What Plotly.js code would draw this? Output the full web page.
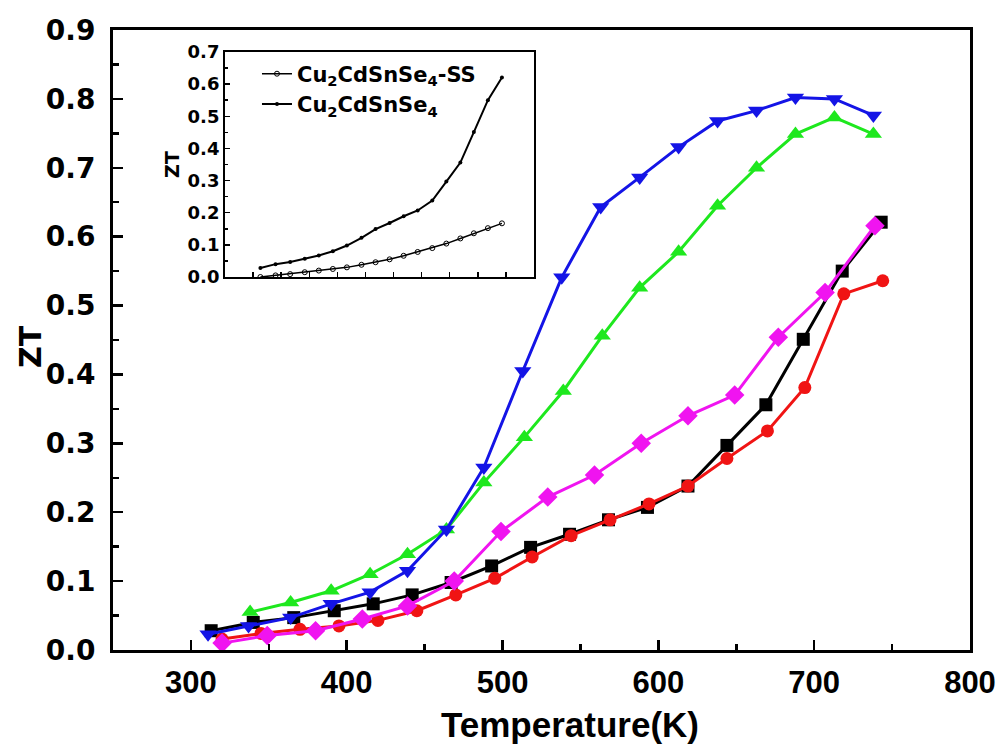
<!DOCTYPE html>
<html>
<head>
<meta charset="utf-8">
<script src="https://cdn.plot.ly/plotly-3.0.1.min.js"></script>
<style>html,body{margin:0;padding:0;background:#fff;}</style>
</head>
<body>
<div id="chart" style="width:1005px;height:744px;"></div>
<script>
// Main chart series (Temperature in K, ZT)
const tempBlack = [313,340,366,392,417,442,467,493,518,543,568,593,619,644,669,693,718,743];
const ztBlack   = [0.028,0.040,0.047,0.057,0.067,0.080,0.098,0.122,0.149,0.168,0.189,0.207,0.238,0.297,0.356,0.451,0.550,0.621];

const tempRed = [320,345,370,395,420,445,470,495,519,544,569,594,619,644,670,694,719,744];
const ztRed   = [0.016,0.024,0.030,0.035,0.043,0.057,0.080,0.104,0.135,0.166,0.189,0.212,0.238,0.278,0.318,0.381,0.517,0.536];

const tempMagenta = [320,349,380,410,439,469,499,529,559,589,619,649,677,707,739];
const ztMagenta   = [0.010,0.021,0.028,0.045,0.064,0.100,0.172,0.222,0.254,0.300,0.340,0.370,0.454,0.519,0.616];

const tempGreen = [338,364,390,415,439,464,488,514,539,564,588,613,638,663,688,713,738];
const ztGreen   = [0.055,0.069,0.086,0.110,0.139,0.175,0.243,0.309,0.376,0.456,0.526,0.578,0.645,0.700,0.749,0.773,0.749];

const tempBlue = [311,337,364,390,415,439,464,488,513,538,563,588,613,638,663,688,713,738];
const ztBlue   = [0.023,0.035,0.047,0.067,0.084,0.115,0.175,0.265,0.405,0.541,0.643,0.686,0.730,0.768,0.783,0.802,0.800,0.776];

// Inset series
const insetTemp = tempBlack;
const insetZtSS = [0.000,0.005,0.009,0.015,0.020,0.025,0.030,0.038,0.046,0.055,0.066,0.078,0.090,0.104,0.120,0.136,0.152,0.167];
const insetZt   = ztBlack;
const insetNames = ['Cu<sub>2</sub>CdSnSe<sub>4</sub>-SS', 'Cu<sub>2</sub>CdSnSe<sub>4</sub>'];

// Axis ticks and titles
const mainXTicks = [300,400,500,600,700,800];
const mainYTicks = [0.0,0.1,0.2,0.3,0.4,0.5,0.6,0.7,0.8,0.9];
const insetYTicks = [0.0,0.1,0.2,0.3,0.4,0.5,0.6,0.7];
const xTitle = 'Temperature(K)';
const yTitle = 'ZT';

const wideFont = 'DejaVu Sans, Liberation Sans, sans-serif';
const xFont = 'Liberation Sans, Arial, sans-serif';

function mainTrace(x, y, color, symbol, size) {
  return {
    x: x, y: y, type: 'scatter', mode: 'lines+markers',
    line: {color: color, width: 3},
    marker: {color: color, symbol: symbol, size: size, line: {width: 0}},
    showlegend: false, xaxis: 'x', yaxis: 'y', hoverinfo: 'skip'
  };
}

const traces = [
  mainTrace(tempBlack, ztBlack, '#000000', 'square', 13),
  mainTrace(tempRed, ztRed, '#f01414', 'circle', 13),
  mainTrace(tempMagenta, ztMagenta, '#f014f0', 'diamond', 15),
  mainTrace(tempGreen, ztGreen, '#1ee81e', 'triangle-up', 15),
  mainTrace(tempBlue, ztBlue, '#1414e6', 'triangle-down', 15),
  {
    x: insetTemp, y: insetZtSS, type: 'scatter', mode: 'lines+markers',
    name: insetNames[0], xaxis: 'x2', yaxis: 'y2',
    line: {color: '#000', width: 1.5},
    marker: {symbol: 'circle-open', size: 5, color: '#000', line: {width: 1, color: '#000'}},
    hoverinfo: 'skip'
  },
  {
    x: insetTemp, y: insetZt, type: 'scatter', mode: 'lines+markers',
    name: insetNames[1], xaxis: 'x2', yaxis: 'y2',
    line: {color: '#000', width: 2},
    marker: {symbol: 'circle', size: 4, color: '#000'},
    hoverinfo: 'skip'
  }
];

const insetX0 = 0.1307, insetX1 = 0.4912, insetY0 = 0.6016, insetY1 = 0.9645;

const layout = {
  width: 1005, height: 744,
  margin: {l: 113, r: 35, t: 30, b: 94},
  paper_bgcolor: '#ffffff', plot_bgcolor: '#ffffff',
  showlegend: true,
  xaxis: {
    domain: [0, 1], range: [250, 800],
    tickmode: 'array', tickvals: mainXTicks, ticktext: mainXTicks.map(String),
    ticks: 'inside', ticklen: 10, tickwidth: 2.5, tickcolor: '#000',
    minor: {dtick: 50, tick0: 250, ticks: 'inside', ticklen: 6, tickwidth: 2.5, tickcolor: '#000'},
    showline: true, linewidth: 3, linecolor: '#000', mirror: true,
    showgrid: false, zeroline: false,
    ticklabelstandoff: 3,
    tickfont: {family: xFont, size: 31, color: '#000', weight: 'bold'}
  },
  yaxis: {
    domain: [0, 1], range: [0, 0.9],
    tickmode: 'array', tickvals: mainYTicks, ticktext: mainYTicks.map(v => v.toFixed(1)),
    ticks: 'inside', ticklen: 10, tickwidth: 2.5, tickcolor: '#000',
    minor: {dtick: 0.05, tick0: 0, ticks: 'inside', ticklen: 6, tickwidth: 2.5, tickcolor: '#000'},
    showline: true, linewidth: 3, linecolor: '#000', mirror: true,
    showgrid: false, zeroline: false,
    ticklabelstandoff: 9,
    tickfont: {family: wideFont, size: 28, color: '#000', weight: 'bold'}
  },
  xaxis2: {
    domain: [insetX0, insetX1], anchor: 'y2', range: [250, 800],
    dtick: 50, tick0: 300, showticklabels: false,
    ticks: 'inside', ticklen: 5, tickwidth: 1.5, tickcolor: '#000',
    showline: true, linewidth: 2, linecolor: '#000', mirror: true,
    showgrid: false, zeroline: false
  },
  yaxis2: {
    domain: [insetY0, insetY1], anchor: 'x2', range: [0, 0.7],
    tickmode: 'array', tickvals: insetYTicks, ticktext: insetYTicks.map(v => v.toFixed(1)),
    ticks: 'inside', ticklen: 5, tickwidth: 1.5, tickcolor: '#000',
    minor: {dtick: 0.05, tick0: 0, ticks: 'inside', ticklen: 3, tickwidth: 1.5, tickcolor: '#000'},
    showline: true, linewidth: 2, linecolor: '#000', mirror: true,
    showgrid: false, zeroline: false,
    tickfont: {family: wideFont, size: 18, color: '#000', weight: 'bold'},
    title: {text: yTitle, font: {family: wideFont, size: 19, color: '#000', weight: 'bold'}, standoff: 3}
  },
  legend: {
    x: 0.168, y: 0.962, xanchor: 'left', yanchor: 'top',
    bgcolor: 'rgba(0,0,0,0)', borderwidth: 0,
    font: {family: wideFont, size: 21, color: '#000', weight: 'bold'},
    tracegroupgap: 0, itemwidth: 30
  },
  annotations: [
    {text: xTitle, xref: 'paper', yref: 'paper', x: 0.533, y: -0.12,
     xanchor: 'center', yanchor: 'middle', showarrow: false,
     font: {family: xFont, size: 35, color: '#000', weight: 'bold'}},
    {text: yTitle, xref: 'paper', yref: 'paper', x: -0.097, y: 0.49,
     xanchor: 'center', yanchor: 'middle', textangle: -90, showarrow: false,
     font: {family: wideFont, size: 30, color: '#000', weight: 'bold'}}
  ]
};

Plotly.newPlot('chart', traces, layout, {staticPlot: true, displayModeBar: false});
</script>
</body>
</html>
